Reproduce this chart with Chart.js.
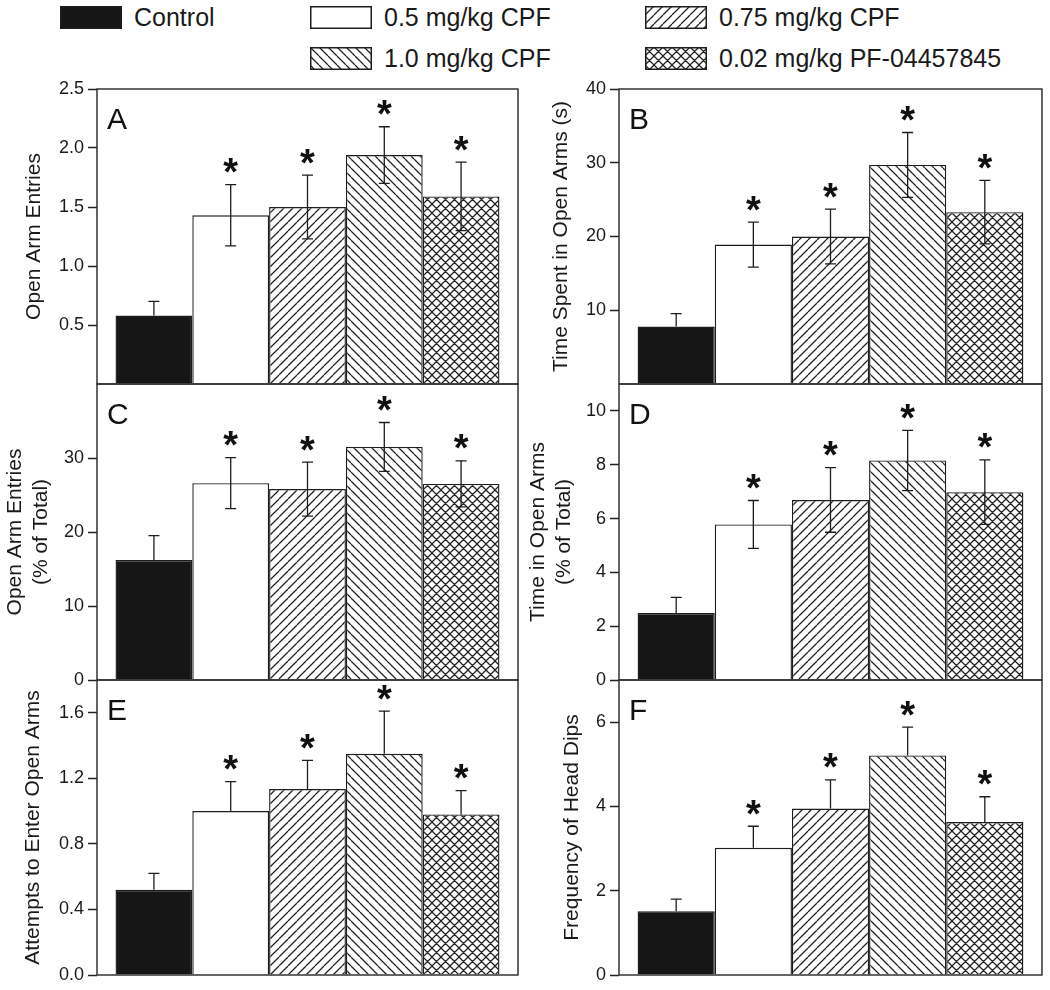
<!DOCTYPE html>
<html>
<head>
<meta charset="utf-8">
<script src="https://cdn.jsdelivr.net/npm/chart.js@4.4.1/dist/chart.umd.min.js"></script>
<style>
  body { margin: 0; background: #fff; }
  #wrap { position: relative; width: 1050px; height: 990px; background: #fff; overflow: hidden; font-family: "Liberation Sans", Arial, sans-serif; }
  #wrap canvas.panel { position: absolute; }
  .lg { position: absolute; display: flex; align-items: center; font-size: 25px; color: #1a1a1a; white-space: nowrap; }
  .lg canvas { margin-right: 12px; }
</style>
</head>
<body>
<div id="wrap"></div>
<script>
// groups (one bar each, same order in every panel)
const groups = ['Control', '0.5 mg/kg CPF', '0.75 mg/kg CPF', '1.0 mg/kg CPF', '0.02 mg/kg PF-04457845'];
const significant = [false, true, true, true, true];

// values (mean, error)
const openArmEntries = [0.58, 1.43, 1.50, 1.94, 1.59];
const openArmEntriesErr = [0.12, 0.26, 0.27, 0.24, 0.29];
const timeOpenArms = [7.8, 18.9, 20.0, 29.7, 23.3];
const timeOpenArmsErr = [1.75, 3.05, 3.7, 4.4, 4.3];
const entriesPct = [16.2, 26.6, 25.8, 31.5, 26.5];
const entriesPctErr = [3.3, 3.45, 3.65, 3.3, 3.1];
const timePct = [2.49, 5.78, 6.69, 8.16, 6.98];
const timePctErr = [0.58, 0.89, 1.2, 1.12, 1.2];
const attempts = [0.52, 1.00, 1.135, 1.35, 0.98];
const attemptsErr = [0.10, 0.18, 0.175, 0.26, 0.145];
const headDips = [1.51, 3.02, 3.95, 5.21, 3.63];
const headDipsErr = [0.29, 0.51, 0.68, 0.67, 0.60];

// axes
const panelLetters = ['A', 'B', 'C', 'D', 'E', 'F'];
const yTitles = [
  'Open Arm Entries',
  'Time Spent in Open Arms (s)',
  ['Open Arm Entries', '(% of Total)'],
  ['Time in Open Arms', '(% of Total)'],
  'Attempts to Enter Open Arms',
  'Frequency of Head Dips'
];
const yMax = [2.5, 40, 40, 11, 1.8, 7];
const yStep = [0.5, 10, 10, 2, 0.4, 2];
const yDecimals = [1, 0, 0, 0, 1, 0];
const hiddenTicks = [[0], [0], [40], [], [], []];
const twoSidedErr = [true, true, true, true, false, false];

const panelValues = [openArmEntries, timeOpenArms, entriesPct, timePct, attempts, headDips];
const panelErrors = [openArmEntriesErr, timeOpenArmsErr, entriesPctErr, timePctErr, attemptsErr, headDipsErr];

// layout of plot boxes
const boxes = [
  { l: 97, t: 89, r: 518, b: 384 },
  { l: 619, t: 89, r: 1042, b: 384 },
  { l: 97, t: 384, r: 518, b: 680 },
  { l: 619, t: 384, r: 1042, b: 680 },
  { l: 97, t: 680, r: 518, b: 975 },
  { l: 619, t: 680, r: 1042, b: 975 }
];
const titlePad = [22, 29, 3, 6, 21, 40];

const FONT = '"Liberation Sans", Arial, sans-serif';
const INK = '#1e1e1e';

function makeHatch(kind) {
  const s = 9;
  const c = document.createElement('canvas');
  c.width = s; c.height = s;
  const g = c.getContext('2d');
  g.fillStyle = '#fff';
  g.fillRect(0, 0, s, s);
  g.strokeStyle = '#222';
  g.lineWidth = 1.25;
  g.beginPath();
  for (let k = -1; k <= 1; k++) {
    if (kind === '/' || kind === 'x') {
      g.moveTo(k * s, s); g.lineTo(k * s + s, 0);
    }
    if (kind === '\\' || kind === 'x') {
      g.moveTo(k * s, 0); g.lineTo(k * s + s, s);
    }
  }
  g.stroke();
  return g.createPattern(c, 'repeat');
}

const fills = ['#161616', '#ffffff', makeHatch('/'), makeHatch('\\'), makeHatch('x')];

const wrap = document.getElementById('wrap');

// legend
const legendPos = [[60, 6], [310, 6], [645, 6], [310, 47], [645, 47]];
groups.forEach((name, i) => {
  const item = document.createElement('div');
  item.className = 'lg';
  item.style.left = legendPos[i][0] + 'px';
  item.style.top = legendPos[i][1] + 'px';
  item.style.height = '23px';
  const sw = document.createElement('canvas');
  sw.width = 62; sw.height = 23;
  const g = sw.getContext('2d');
  g.fillStyle = fills[i];
  g.fillRect(0, 0, 62, 23);
  g.strokeStyle = INK;
  g.lineWidth = 1.5;
  g.strokeRect(0.75, 0.75, 60.5, 21.5);
  item.appendChild(sw);
  const span = document.createElement('span');
  span.textContent = name;
  item.appendChild(span);
  wrap.appendChild(item);
});

// frame, panel letter, error bars and asterisks
const decorPlugin = {
  id: 'decor',
  afterDatasetsDraw(chart, args, opts) {
    const ctx = chart.ctx;
    const a = chart.chartArea;
    const y = chart.scales.y;
    ctx.save();
    ctx.strokeStyle = INK;
    ctx.lineWidth = 1.3;
    chart.data.datasets.forEach((ds, i) => {
      const bar = chart.getDatasetMeta(i).data[0];
      const v = ds.data[0];
      const e = opts.errors[i];
      const yTop = y.getPixelForValue(v + e);
      // the lower half is hidden inside the solid control bar
      const lower = opts.twoSided && i > 0;
      const yLow = lower ? y.getPixelForValue(v - e) : y.getPixelForValue(v);
      ctx.beginPath();
      ctx.moveTo(bar.x, yTop); ctx.lineTo(bar.x, yLow);
      ctx.moveTo(bar.x - 5.5, yTop); ctx.lineTo(bar.x + 5.5, yTop);
      if (lower) { ctx.moveTo(bar.x - 5.5, yLow); ctx.lineTo(bar.x + 5.5, yLow); }
      ctx.stroke();
      if (significant[i]) {
        ctx.fillStyle = '#111';
        ctx.font = 'bold 38px ' + FONT;
        ctx.textAlign = 'center';
        ctx.textBaseline = 'alphabetic';
        const m = ctx.measureText('*');
        const cy = yTop - 19;
        ctx.fillText('*', bar.x, cy - (m.actualBoundingBoxDescent - m.actualBoundingBoxAscent) / 2);
      }
    });
    ctx.lineWidth = 1.5;
    ctx.strokeStyle = '#333';
    ctx.strokeRect(a.left, a.top, a.right - a.left, a.bottom - a.top);
    ctx.fillStyle = '#111';
    ctx.font = '30px ' + FONT;
    ctx.textAlign = 'left';
    ctx.textBaseline = 'alphabetic';
    ctx.fillText(opts.letter, a.left + 10, a.top + 40);
    ctx.restore();
  }
};

boxes.forEach((box, p) => {
  const left = p % 2 === 0;
  const cx = left ? 0 : 520;
  const cw = 530;
  const cy = box.t - 20;
  const ch = box.b - box.t + 40;
  const cv = document.createElement('canvas');
  cv.className = 'panel';
  cv.width = cw; cv.height = ch;
  cv.style.left = cx + 'px';
  cv.style.top = cy + 'px';
  cv.style.width = cw + 'px';
  cv.style.height = ch + 'px';
  wrap.appendChild(cv);

  const hidden = hiddenTicks[p];
  const yWidth = box.l - cx;

  new Chart(cv, {
    type: 'bar',
    data: {
      labels: [''],
      datasets: groups.map((g, i) => ({
        label: g,
        data: [panelValues[p][i]],
        backgroundColor: fills[i],
        borderColor: INK,
        borderWidth: 1.4,
        barPercentage: 1,
        categoryPercentage: 0.912
      }))
    },
    options: {
      responsive: false,
      animation: false,
      events: [],
      layout: { padding: { left: 0, top: 20, right: cx + cw - box.r, bottom: 20 } },
      plugins: {
        legend: { display: false },
        tooltip: { enabled: false },
        decor: { letter: panelLetters[p], errors: panelErrors[p], twoSided: twoSidedErr[p] }
      },
      scales: {
        x: { display: false },
        y: {
          min: 0,
          max: yMax[p],
          afterFit: (scale) => { scale.width = yWidth; },
          border: { display: false },
          grid: {
            drawOnChartArea: false,
            drawTicks: true,
            tickLength: 9,
            tickWidth: 1.5,
            tickColor: (c) => (c.tick && hidden.includes(Math.round(c.tick.value * 100) / 100)) ? 'rgba(0,0,0,0)' : '#222'
          },
          ticks: {
            stepSize: yStep[p],
            includeBounds: false,
            padding: 4,
            color: '#1a1a1a',
            font: { family: FONT, size: 18 },
            callback: (v) => hidden.includes(Math.round(v * 100) / 100) ? '' : Number(v).toFixed(yDecimals[p])
          },
          title: {
            display: true,
            text: yTitles[p],
            color: '#1a1a1a',
            font: { family: FONT, size: 21, lineHeight: 1.2 },
            padding: { top: titlePad[p], bottom: 0 }
          }
        }
      }
    },
    plugins: [decorPlugin]
  });
});
</script>
</body>
</html>
